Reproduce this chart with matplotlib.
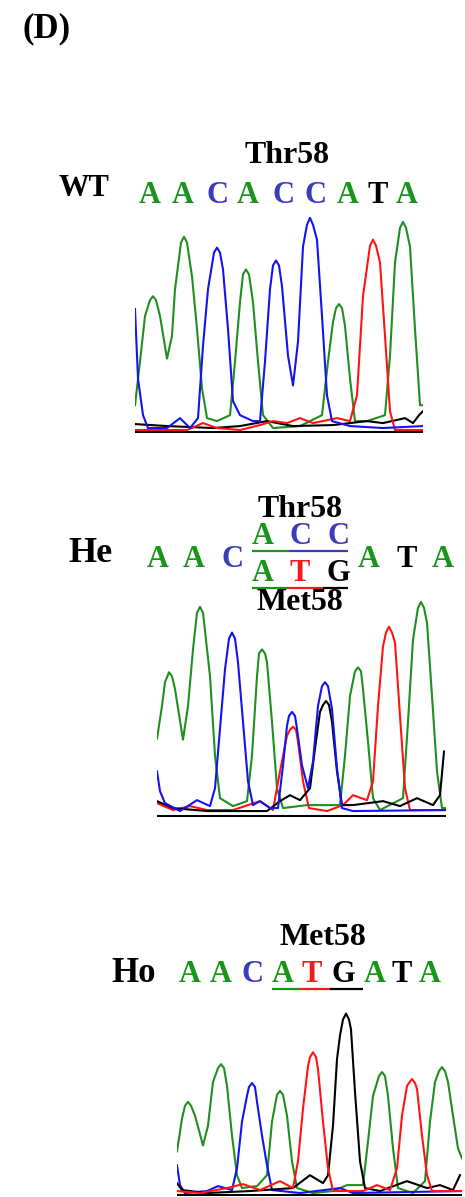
import matplotlib
matplotlib.use("Agg")
import matplotlib.pyplot as plt

# ---- sequences ----
wt_seq = "AACACCATA"
he_seq_left = "AAC"
he_seq_top = "ACC"
he_seq_bottom = "ATG"
he_seq_right = "ATA"
ho_seq = "AACATGATA"

# ---- traces (scan position, signal height) ----
# WT
wt_green_x = [0, 5, 10, 15, 18, 21, 25, 32, 37, 40, 46, 49, 52, 57, 62, 67, 72, 82, 95, 100, 105, 108, 111, 114, 118, 123, 128, 138, 165, 187, 193, 198, 201, 204, 207, 210, 215, 220, 232, 250, 255, 260, 265, 268, 271, 275, 280, 285, 288]
wt_green_y = [26, 70, 116, 132, 136, 132, 116, 73, 96, 143, 190, 196, 190, 156, 103, 43, 13, 10, 16, 70, 130, 158, 163, 158, 130, 70, 16, 3, 5, 16, 70, 110, 124, 128, 124, 106, 53, 10, 10, 16, 76, 170, 205, 211, 205, 186, 103, 26, 26]
wt_blue_x = [0, 3, 8, 13, 32, 45, 55, 63, 68, 73, 79, 82, 85, 88, 93, 98, 105, 118, 125, 130, 135, 138, 141, 144, 147, 153, 158, 163, 168, 172, 175, 178, 182, 187, 192, 197, 215, 248, 288]
wt_blue_y = [123, 53, 16, 3, 3, 13, 3, 13, 86, 143, 180, 185, 180, 163, 103, 30, 16, 10, 10, 70, 143, 167, 172, 167, 146, 76, 46, 90, 186, 208, 215, 208, 193, 116, 36, 10, 5, 3, 5]
wt_red_x = [0, 52, 68, 82, 105, 125, 138, 152, 165, 178, 202, 215, 222, 228, 235, 238, 241, 245, 250, 255, 260, 288]
wt_red_y = [1, 1, 8, 3, 1, 6, 10, 8, 13, 8, 13, 10, 36, 136, 187, 193, 187, 170, 96, 20, 1, 1]
wt_black_x = [0, 32, 78, 105, 132, 158, 198, 232, 248, 270, 278, 284, 288]
wt_black_y = [7, 5, 3, 5, 10, 5, 6, 10, 8, 13, 8, 16, 20]

# He
he_green_x = [0, 5, 8, 12, 15, 18, 26, 31, 36, 40, 43, 46, 53, 58, 63, 76, 90, 95, 100, 102, 105, 108, 110, 115, 120, 126, 150, 183, 188, 193, 198, 201, 204, 206, 211, 216, 223, 246, 251, 256, 261, 264, 267, 270, 275, 280, 285, 289]
he_green_y = [77, 110, 134, 144, 140, 127, 76, 110, 167, 204, 210, 204, 140, 60, 17, 9, 14, 60, 140, 163, 167, 163, 154, 94, 27, 7, 10, 10, 60, 120, 145, 149, 145, 127, 74, 17, 5, 17, 94, 177, 209, 215, 209, 194, 120, 44, 7, 7]
he_blue_x = [0, 3, 8, 23, 40, 53, 58, 63, 68, 72, 75, 78, 81, 86, 91, 96, 103, 113, 121, 126, 130, 132, 135, 138, 140, 145, 151, 156, 161, 165, 168, 171, 175, 180, 185, 196, 289]
he_blue_y = [44, 24, 12, 4, 15, 9, 27, 87, 147, 178, 184, 178, 154, 94, 34, 10, 14, 7, 7, 50, 90, 100, 104, 100, 87, 50, 27, 54, 110, 130, 134, 130, 107, 47, 7, 4, 5]
he_red_x = [0, 16, 33, 50, 76, 103, 116, 123, 130, 133, 136, 139, 141, 146, 152, 170, 186, 196, 210, 216, 221, 226, 229, 232, 235, 238, 243, 248, 253, 289]
he_red_y = [12, 5, 9, 5, 5, 14, 5, 44, 80, 86, 89, 86, 74, 34, 7, 4, 10, 20, 15, 34, 110, 170, 184, 190, 184, 174, 100, 27, 5, 5]
he_black_x = [0, 16, 50, 110, 123, 133, 143, 153, 158, 163, 166, 169, 172, 175, 180, 185, 196, 226, 243, 260, 276, 283, 287]
he_black_y = [14, 7, 4, 4, 14, 20, 15, 27, 67, 104, 111, 115, 111, 94, 44, 10, 10, 14, 9, 17, 10, 20, 64]

# Ho
ho_green_x = [0, 5, 8, 11, 14, 18, 26, 31, 36, 41, 44, 47, 50, 55, 60, 65, 80, 90, 95, 100, 103, 106, 110, 115, 120, 136, 156, 170, 186, 191, 196, 202, 205, 208, 211, 216, 221, 236, 248, 253, 258, 262, 265, 268, 271, 276, 281, 285]
ho_green_y = [43, 76, 89, 93, 89, 79, 49, 69, 113, 127, 131, 127, 109, 59, 19, 6, 8, 19, 73, 100, 104, 100, 79, 33, 6, 1, 3, 9, 9, 53, 99, 119, 123, 119, 99, 46, 6, 1, 13, 73, 113, 124, 128, 124, 113, 79, 46, 36]
ho_blue_x = [0, 3, 8, 30, 41, 55, 60, 65, 70, 72, 75, 78, 80, 85, 90, 95, 123, 163, 176, 285]
ho_blue_y = [29, 9, 1, 3, 8, 4, 26, 73, 99, 108, 112, 108, 93, 59, 29, 4, 1, 6, 1, 3]
ho_red_x = [0, 23, 50, 66, 83, 103, 116, 121, 126, 131, 133, 136, 139, 141, 146, 151, 156, 186, 200, 213, 220, 225, 230, 232, 235, 238, 240, 245, 250, 255, 285]
ho_red_y = [3, 1, 6, 10, 4, 13, 6, 33, 86, 129, 138, 143, 138, 126, 73, 26, 3, 3, 9, 4, 26, 79, 109, 112, 116, 112, 106, 59, 19, 3, 3]
ho_black_x = [0, 5, 30, 73, 116, 133, 146, 151, 156, 160, 163, 166, 169, 172, 174, 178, 183, 188, 203, 230, 250, 263, 276, 283]
ho_black_y = [11, 4, 1, 3, 6, 19, 11, 19, 69, 136, 160, 176, 182, 176, 166, 103, 33, 6, 3, 13, 6, 9, 4, 19]

W, H = 465, 1197
fig = plt.figure(figsize=(W / 100, H / 100), dpi=100)

# overlay axes in pixel coordinates for text
base = fig.add_axes([0, 0, 1, 1])
base.set_xlim(0, W)
base.set_ylim(H, 0)
base.axis("off")

FONT = "Liberation Serif"
letter_col = {"A": "#1a951a", "C": "#3b3bbd", "T": "#000000", "G": "#000000"}
trace_col = {"green": "#1f8f1f", "blue": "#1414f0", "red": "#ff1414", "black": "#000000"}


def txt(x, y, s, size=22, color="black"):
    base.text(x, y, s, fontsize=size, color=color, family=FONT,
              fontweight="bold", ha="center", va="baseline")


def row(xs, y, seq, colors=None):
    for i, (x, b) in enumerate(zip(xs, seq)):
        c = colors[i] if colors else letter_col[b]
        txt(x, y, b, color=c)


def trace_axes(left, right, bottom, top, traces):
    ax = fig.add_axes([left / W, 1 - bottom / H, (right - left) / W, (bottom - top) / H])
    for xs, ys, c in traces:
        ax.plot(xs, ys, color=trace_col[c], lw=1.5, solid_joinstyle="round")
    ax.axhline(-1, color="black", lw=2.2)
    ax.set_xlim(0, right - left)
    ax.set_ylim(-2, 230)
    ax.axis("off")
    return ax


# ---- (D) ----
base.text(22, 37, "(D)", fontsize=25, family=FONT, fontweight="bold", ha="left", va="baseline")

# ---- WT ----
txt(84, 196, "WT", size=22)
txt(287, 163, "Thr58", size=23)
row([150, 183, 217, 248, 283, 315, 348, 378, 407], 203, wt_seq)
trace_axes(135, 423, 433, 203, [
    (wt_green_x, wt_green_y, "green"),
    (wt_black_x, wt_black_y, "black"),
    (wt_red_x, wt_red_y, "red"),
    (wt_blue_x, wt_blue_y, "blue"),
])

# ---- He ----
txt(90, 562, "He", size=26)
txt(300, 517, "Thr58", size=23)
txt(300, 610, "Met58", size=23)
row([158, 194, 232], 567, he_seq_left)
row([263, 300, 338], 544, he_seq_top)
row([263, 300, 338], 581, he_seq_bottom, ["#1a951a", "#ee1c1c", "#000000"])
row([369, 407, 443], 567, he_seq_right)
base.plot([252, 289], [551, 551], color="#1a951a", lw=1.6, solid_capstyle="butt")
base.plot([289, 348], [551, 551], color="#3b3bbd", lw=1.6, solid_capstyle="butt")
base.plot([252, 287], [588, 588], color="#1a951a", lw=1.6, solid_capstyle="butt")
base.plot([287, 323], [588, 588], color="#ee1c1c", lw=1.6, solid_capstyle="butt")
base.plot([323, 348], [588, 588], color="#000000", lw=1.6, solid_capstyle="butt")
trace_axes(157, 446, 817, 587, [
    (he_green_x, he_green_y, "green"),
    (he_red_x, he_red_y, "red"),
    (he_black_x, he_black_y, "black"),
    (he_blue_x, he_blue_y, "blue"),
])

# ---- Ho ----
txt(134, 982, "Ho", size=25)
txt(323, 945, "Met58", size=23)
row([190, 221, 252, 283, 312, 343, 375, 402, 430], 982, ho_seq,
    ["#1a951a", "#1a951a", "#3b3bbd", "#1a951a", "#ee1c1c", "#000000", "#1a951a", "#000000", "#1a951a"])
base.plot([272, 300], [989, 989], color="#1a951a", lw=1.6, solid_capstyle="butt")
base.plot([300, 330], [989, 989], color="#ee1c1c", lw=1.6, solid_capstyle="butt")
base.plot([330, 363], [989, 989], color="#000000", lw=1.6, solid_capstyle="butt")
trace_axes(177, 462, 1196, 966, [
    (ho_green_x, ho_green_y, "green"),
    (ho_blue_x, ho_blue_y, "blue"),
    (ho_black_x, ho_black_y, "black"),
    (ho_red_x, ho_red_y, "red"),
])

fig.savefig("out.png", dpi=100)
